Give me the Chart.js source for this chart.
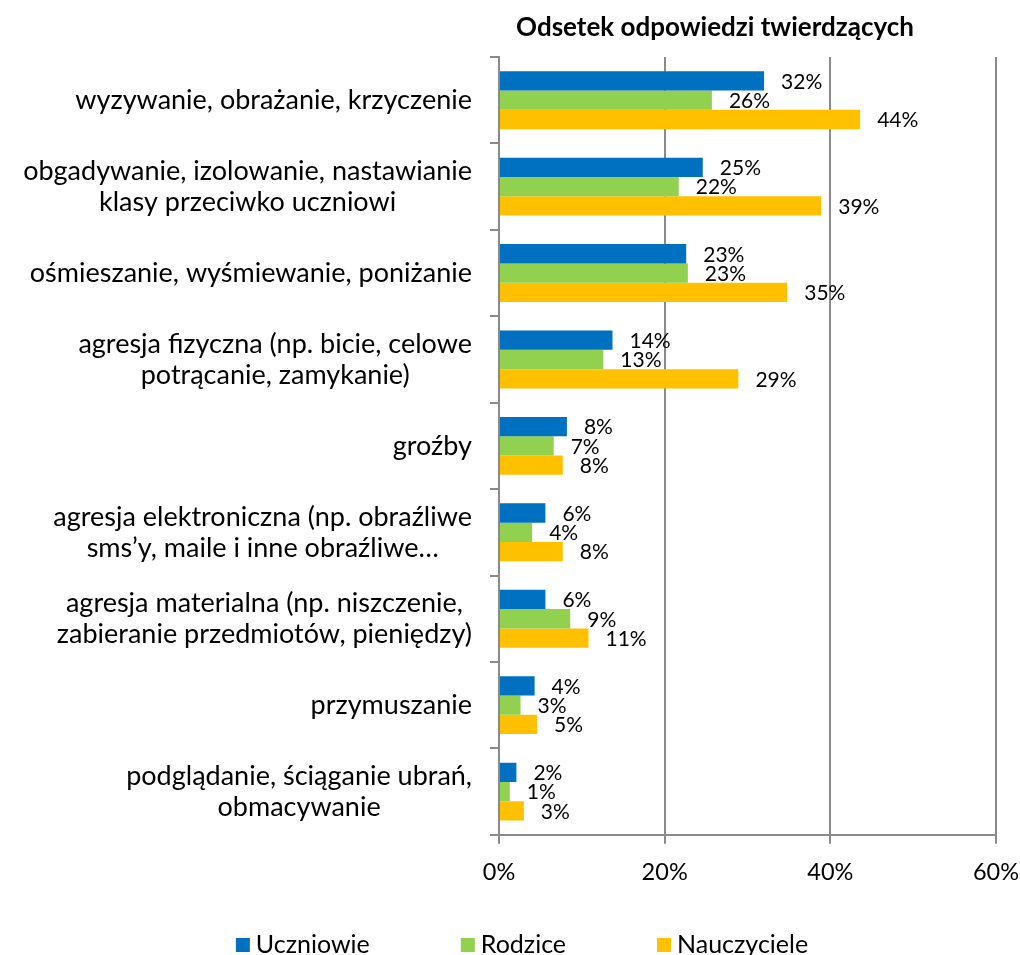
<!DOCTYPE html>
<html>
<head>
<meta charset="utf-8">
<script src="https://cdn.jsdelivr.net/npm/chart.js@4.4.0/dist/chart.umd.min.js"></script>
<style>
  html, body { margin: 0; padding: 0; background: #fff; }
  #wrap { width: 1020px; height: 955px; position: relative; }
</style>
</head>
<body>
<div id="wrap"><canvas id="barChart"></canvas></div>
<script>
const chartTitle = 'Odsetek odpowiedzi twierdzących';
const categories = [
  'wyzywanie, obrażanie, krzyczenie',
  ['obgadywanie, izolowanie, nastawianie', 'klasy przeciwko uczniowi'],
  'ośmieszanie, wyśmiewanie, poniżanie',
  ['agresja fizyczna (np. bicie, celowe', 'potrącanie, zamykanie)'],
  'groźby',
  ['agresja elektroniczna (np. obraźliwe', 'sms’y, maile i inne obraźliwe…'],
  ['agresja materialna (np. niszczenie,', 'zabieranie przedmiotów, pieniędzy)'],
  'przymuszanie',
  ['podglądanie, ściąganie ubrań,', 'obmacywanie']
];
const seriesNames = ['Uczniowie', 'Rodzice', 'Nauczyciele'];
const uczniowie = [32.0, 24.6, 22.6, 13.7, 8.2, 5.6, 5.6, 4.3, 2.1];
const rodzice = [25.7, 21.7, 22.8, 12.6, 6.6, 4.0, 8.6, 2.6, 1.3];
const nauczyciele = [43.6, 38.9, 34.8, 28.9, 7.7, 7.7, 10.8, 4.6, 3.0];
const xTicks = [0, 20, 40, 60];

const colors = ['#0070C0', '#92D050', '#FFC000'];
const axisColor = '#8a8a8a';
const fontFamily = 'Lato, "Open Sans", sans-serif';

// labels, title, value labels and legend drawn by hand (Excel-like look)
const excelText = {
  id: 'excelText',
  afterDatasetsDraw(chart) {
    const ctx = chart.ctx;
    ctx.save();
    ctx.fillStyle = '#000';
    ctx.textAlign = 'left';
    ctx.textBaseline = 'middle';
    ctx.font = '21px ' + fontFamily;
    chart.data.datasets.forEach((ds, di) => {
      chart.getDatasetMeta(di).data.forEach((bar, i) => {
        ctx.fillText(Math.round(ds.data[i]) + '%', bar.x + 17, bar.y + 1);
      });
    });
    ctx.restore();
  },
  afterDraw(chart) {
    const ctx = chart.ctx;
    const area = chart.chartArea;
    const yScale = chart.scales.y;
    ctx.save();
    ctx.fillStyle = '#000';
    ctx.textBaseline = 'middle';
    ctx.textAlign = 'center';

    ctx.font = 'bold 26px ' + fontFamily;
    ctx.fillText(chartTitle, 715, 28);

    ctx.font = '27px ' + fontFamily;
    categories.forEach((lab, i) => {
      const lines = Array.isArray(lab) ? lab : [lab];
      const y = yScale.getPixelForValue(i);
      const w = Math.max(...lines.map(l => ctx.measureText(l).width));
      const cx = area.left - 27 - w / 2;
      lines.forEach((l, j) => {
        ctx.fillText(l, cx, y + (j - (lines.length - 1) / 2) * 31);
      });
    });

    // legend
    ctx.font = '25px ' + fontFamily;
    ctx.textAlign = 'left';
    const box = 14, boxGap = 6, itemGap = 91, legendY = 945;
    const widths = seriesNames.map(n => box + boxGap + ctx.measureText(n).width);
    const total = widths.reduce((a, b) => a + b, 0) + itemGap * (widths.length - 1);
    let x = 522 - total / 2;
    seriesNames.forEach((n, i) => {
      ctx.fillStyle = colors[i];
      ctx.fillRect(x, legendY - box / 2, box, box);
      ctx.fillStyle = '#000';
      ctx.fillText(n, x + box + boxGap, legendY);
      x += widths[i] + itemGap;
    });
    ctx.restore();
  }
};

const ctx = document.getElementById('barChart').getContext('2d');
new Chart(ctx, {
  type: 'bar',
  data: {
    labels: categories,
    datasets: [uczniowie, rodzice, nauczyciele].map((d, i) => ({
      label: seriesNames[i],
      data: d,
      backgroundColor: colors[i],
      borderWidth: 0,
      barPercentage: 1,
      categoryPercentage: 0.67
    }))
  },
  options: {
    indexAxis: 'y',
    responsive: true,
    maintainAspectRatio: false,
    animation: false,
    layout: {
      padding: { top: 57, right: 24, bottom: 53, left: 0 }
    },
    scales: {
      x: {
        min: 0,
        max: 60,
        afterBuildTicks: (scale) => { scale.ticks = xTicks.map(v => ({ value: v })); },
        afterFit: (scale) => { scale.paddingLeft = 0; scale.paddingRight = 0; },
        ticks: {
          callback: (v) => v + '%',
          color: '#000',
          padding: 15,
          maxRotation: 0,
          font: { family: fontFamily, size: 23.5 }
        },
        grid: { color: axisColor, lineWidth: 2, tickLength: 9 },
        border: { color: axisColor, width: 2 }
      },
      y: {
        afterFit: (scale) => { scale.width = 499; },
        ticks: { display: false },
        grid: {
          offset: true,
          drawOnChartArea: false,
          color: axisColor,
          lineWidth: 2,
          tickLength: 9
        },
        border: { color: axisColor, width: 2 }
      }
    },
    plugins: {
      legend: { display: false },
      tooltip: { enabled: false },
      title: { display: false }
    }
  },
  plugins: [excelText]
});
</script>
</body>
</html>
